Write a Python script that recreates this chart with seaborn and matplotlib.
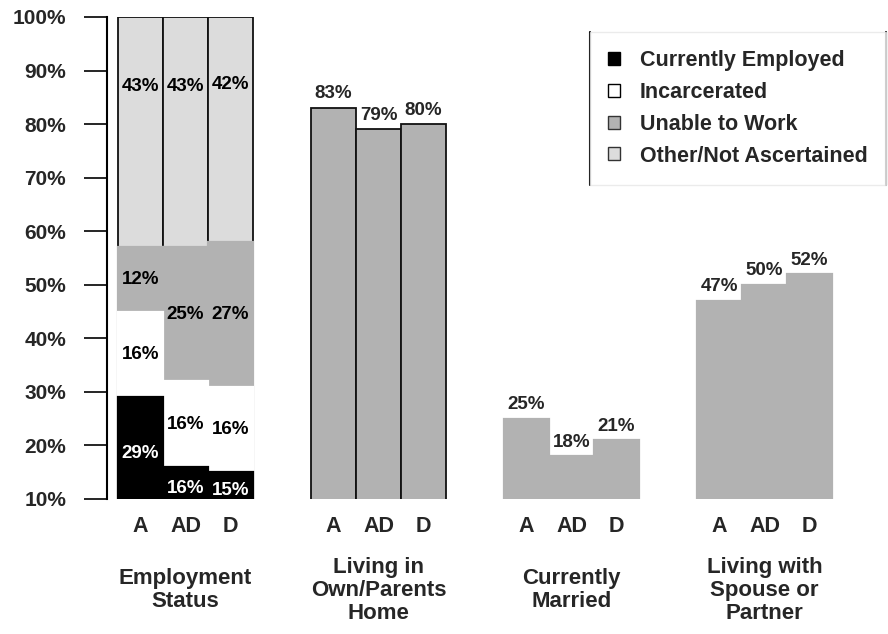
import numpy as np
import pandas as pd
import matplotlib
matplotlib.use("Agg")
import matplotlib.pyplot as plt
from matplotlib.patches import Patch
from matplotlib.lines import Line2D
import seaborn as sns

# data
groups = ["Employment\nStatus", "Living in\nOwn/Parents\nHome", "Currently\nMarried", "Living with\nSpouse or\nPartner"]
subs = ["A", "AD", "D"]

employed = [29, 16, 15]
incarcerated = [16, 16, 16]
unable = [12, 25, 27]
other = [43, 43, 42]

living_home = [83, 79, 80]
married = [25, 18, 21]
spouse = [47, 50, 52]

legend_labels = ["Currently Employed", "Incarcerated", "Unable to Work", "Other/Not Ascertained"]

BLACK = "#000000"
WHITE = "#ffffff"
GRAY = "#b2b2b2"
LIGHT = "#dcdcdc"

sns.set_theme(style="white")
plt.rcParams["font.family"] = ["Liberation Sans", "DejaVu Sans"]
plt.rcParams["font.weight"] = "bold"

fig = plt.figure(figsize=(8.88, 6.34), dpi=100)
ax = fig.add_axes([107 / 888, 1 - 499 / 634, 1 - 107 / 888, (499 - 17) / 634])

W = 0.7  # total width of a group, each bar = W/3


def layer(group, values, color, edge=None):
    df = pd.DataFrame({"group": [groups[group]] * 3, "sub": subs, "value": values})
    if edge is None:
        ec, lw = color, 1.6
    else:
        ec, lw = edge, 1.3
    sns.barplot(data=df, x="group", y="value", hue="sub", order=groups, hue_order=subs,
                palette=[color] * 3, width=W, errorbar=None, legend=False, ax=ax,
                edgecolor=ec, linewidth=lw)


# stacked employment bars drawn as cumulative layers
cum_emp = np.array(employed)
cum_inc = cum_emp + np.array(incarcerated)
cum_unb = cum_inc + np.array(unable)
cum_oth = cum_unb + np.array(other)

layer(0, cum_oth, LIGHT, edge="#111111")
layer(0, cum_unb, GRAY)
layer(0, cum_inc, WHITE)
layer(0, cum_emp, BLACK)

layer(1, living_home, GRAY, edge="#111111")
layer(2, married, GRAY)
layer(3, spouse, GRAY)

ax.set_ylim(10, 100)
ax.set_xlim(-0.407, 3.64)


def xpos(g, j):
    return g + (j - 1) * W / 3


# labels inside the stacked bars
segments = [
    (np.zeros(3), cum_emp, employed, "white", None),
    (cum_emp, cum_inc, incarcerated, "black", 0.5),
    (cum_inc, cum_unb, unable, "black", 0.5),
    (cum_unb, cum_oth, other, "black", 0.7),
]
for lo, hi, vals, col, frac in segments:
    for j in range(3):
        if frac is None:
            y = (max(lo[j], 10) + hi[j]) / 2 - 1
        else:
            y = lo[j] + frac * (hi[j] - lo[j])
        ax.text(xpos(0, j), y, f"{vals[j]}%", ha="center", va="center",
                fontsize=13.5, fontweight="bold", color=col)

# labels on top of single bars
for g, vals in [(1, living_home), (2, married), (3, spouse)]:
    for j in range(3):
        ax.annotate(f"{vals[j]}%", (xpos(g, j), vals[j]), xytext=(0, 4),
                    textcoords="offset points", ha="center", va="bottom",
                    fontsize=13.5, fontweight="bold")

# category and group labels under the axis
trans = ax.get_xaxis_transform()
for g in range(len(groups)):
    for j in range(3):
        ax.text(xpos(g, j), -0.058, subs[j], transform=trans, ha="center", va="center",
                fontsize=15.5, fontweight="bold")
    ax.text(g, -0.189, groups[g], transform=trans, ha="center", va="center",
            fontsize=16, fontweight="bold", linespacing=1.12, multialignment="center")

ax.set_xticks([])
ax.set_xlabel("")
ax.set_ylabel("")
yt = list(range(10, 101, 10))
ax.set_yticks(yt)
ax.set_yticklabels([f"{v}%" for v in yt], fontsize=15, fontweight="bold")
ax.tick_params(axis="y", direction="out", length=16.5, width=1.2, pad=13, color="black", left=True)
for s in ["top", "right", "bottom"]:
    ax.spines[s].set_visible(False)
ax.spines["left"].set_color("black")
ax.spines["left"].set_linewidth(1.5)

handles = [
    Patch(facecolor=BLACK, edgecolor=BLACK, linewidth=1),
    Patch(facecolor=WHITE, edgecolor=BLACK, linewidth=1),
    Patch(facecolor=GRAY, edgecolor="#333333", linewidth=1),
    Patch(facecolor=LIGHT, edgecolor="#333333", linewidth=1),
]
leg = fig.legend(handles, legend_labels, loc="upper left", bbox_to_anchor=(590 / 888, 1 - 32 / 634),
                 frameon=True, fancybox=False, prop={"size": 15.5, "weight": "bold"},
                 handlelength=0.55, handleheight=0.55, handletextpad=0.9, labelspacing=0.5,
                 borderpad=0.85, borderaxespad=0)
leg.get_frame().set_edgecolor("#e6e6e6")
leg.get_frame().set_linewidth(1)

fig.canvas.draw()
bb = leg.get_window_extent().transformed(fig.transFigure.inverted())
for xx in (bb.x0, bb.x1):
    fig.add_artist(Line2D([xx, xx], [bb.y0, bb.y1], transform=fig.transFigure, color="black", lw=1.5))

fig.savefig("out.png", dpi=100)
